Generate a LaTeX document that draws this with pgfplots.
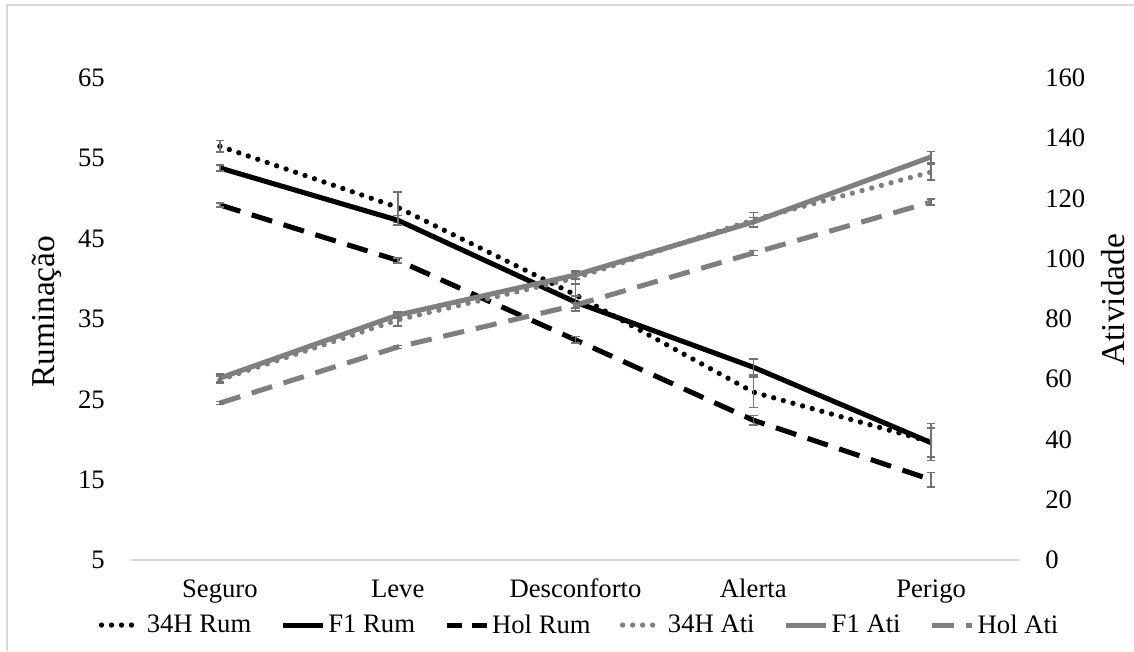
\documentclass[border=0pt]{standalone}
\usepackage{pgfplots}
\pgfplotsset{compat=1.18}
\usepackage{fontspec}
\setmainfont{Liberation Serif}
\definecolor{lgray}{HTML}{7F7F7F}
\definecolor{egray}{HTML}{737373}
\definecolor{fgray}{HTML}{D9D9D9}
\pgfplotsset{
  common/.style={
    at={(98.25pt,68.25pt)}, anchor=south west, scale only axis,
    width=666.75pt, height=361.5pt,
    xmin=-0.5, xmax=4.5,
    axis line style={draw=none},
    major tick length=0pt,
    tick style={draw=none},
    every tick label/.append style={font=\fontsize{20}{24}\selectfont},
    /pgf/number format/assume math mode=true,
    clip=false,
  },
  dotst/.style={line width=4pt, line cap=round, dash pattern=on 0pt off 7.5pt},
  dashst/.style={line width=3.8pt, dash pattern=on 16pt off 9pt},
  solidst/.style={line width=3.8pt},
  eb/.style={error bars/.cd, y dir=both, y explicit,
    error bar style={egray, line width=1.2pt, solid, line cap=butt},
    error mark options={egray, rotate=90, mark size=3.2pt, line width=1.2pt, solid}},
}
\begin{document}
\begin{tikzpicture}[x=1pt,y=1pt]
\useasboundingbox (0,0) rectangle (850.5,488.25);
\draw[fgray, line width=1.5pt] (5.6,0) -- (5.6,484.6) -- (850.5,484.6);
% left axis: Ruminacao
\begin{axis}[common,
  ymin=5, ymax=65, ytick={5,15,...,65},
  xtick={0,...,4},
  xticklabels={Seguro,Leve,Desconforto,Alerta,Perigo},
  xticklabel style={anchor=north, inner sep=0pt, text height=14pt, yshift=-13.75pt},
  yticklabel style={anchor=east, inner sep=0pt, xshift=-19.5pt},
  ylabel={Ruminação},
  ylabel style={at={(axis description cs:-0.0945,0.515)}, anchor=center, rotate=0, font=\fontsize{25}{30}\selectfont},
]
\draw[fgray, line width=1.5pt] (rel axis cs:0,0) -- (rel axis cs:1,0);
\addplot[black, dotst, eb] coordinates {
  (0,56.5) +- (0,0.7)
  (1,48.9) +- (0,1.9)
  (2,38.0) +- (0,2.0)
  (3,25.9) +- (0,1.9)
  (4,19.7) +- (0,2.3)
};
\addplot[black, solidst, eb] coordinates {
  (0,53.8) +- (0,0.4)
  (1,47.3) +- (0,0.6)
  (2,37.1) +- (0,0.8)
  (3,29.0) +- (0,1.0)
  (4,19.6) +- (0,1.8)
};
\addplot[black, dashst, eb] coordinates {
  (0,49.2) +- (0,0.25)
  (1,42.3) +- (0,0.3)
  (2,32.4) +- (0,0.4)
  (3,22.4) +- (0,0.6)
  (4,15.0) +- (0,0.9)
};
\end{axis}
% right axis: Atividade
\begin{axis}[common,
  ymin=0, ymax=160, ytick={0,20,...,160},
  xtick=\empty,
  yticklabel pos=right,
  yticklabel style={anchor=west, inner sep=0pt, xshift=18.75pt},
  ylabel={Atividade},
  ylabel style={at={(axis description cs:1.1046,0.54)}, anchor=center, rotate=0, font=\fontsize{25}{30}\selectfont},
  legend style={draw=none, fill=none, at={(axis description cs:0.505,-0.135)}, anchor=center,
    legend columns=6, font=\fontsize{20}{24}\selectfont,
    /tikz/every even column/.append style={column sep=20pt},
    cells={anchor=west, inner sep=2pt}},
  legend image code/.code={\draw[#1] (0pt,0pt) -- (30pt,0pt);},
]
\addlegendimage{black, dotst}
\addlegendentry{34H Rum}
\addlegendimage{black, solidst}
\addlegendentry{F1 Rum}
\addlegendimage{black, dashst, dash pattern=on 11pt off 8pt}
\addlegendentry{Hol Rum}
\addplot[lgray, dotst, eb] coordinates {
  (0,59.8) +- (0,1.2)
  (1,79.7) +- (0,2.0)
  (2,93.6) +- (0,2.0)
  (3,112.9) +- (0,2.5)
  (4,128.8) +- (0,2.7)
};
\addlegendentry{34H Ati}
\addplot[lgray, solidst, eb] coordinates {
  (0,60.4) +- (0,1.3)
  (1,81.3) +- (0,1.0)
  (2,94.6) +- (0,1.5)
  (3,112.2) +- (0,1.5)
  (4,133.8) +- (0,1.8)
};
\addlegendentry{F1 Ati}
\addplot[lgray, dashst, eb] coordinates {
  (0,52.1) +- (0,0.5)
  (1,70.7) +- (0,0.5)
  (2,84.6) +- (0,0.8)
  (3,101.9) +- (0,0.8)
  (4,118.8) +- (0,1.0)
};
\addlegendentry{Hol Ati}
\end{axis}
\end{tikzpicture}
\end{document}
